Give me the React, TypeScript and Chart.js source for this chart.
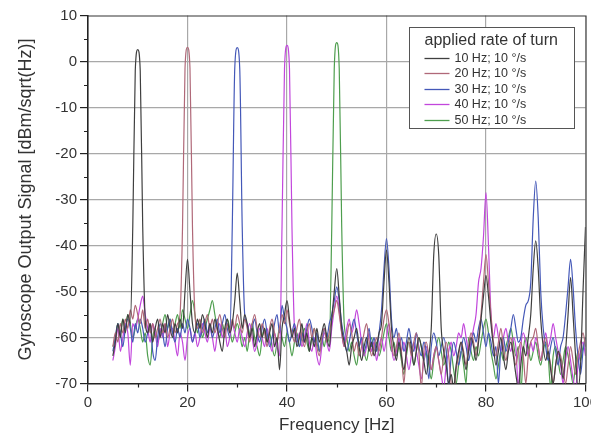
import React, { useEffect, useRef } from 'react';
import { Chart, registerables } from 'chart.js';

Chart.register(...registerables);

const FONT = "'Liberation Sans', Arial, Helvetica, sans-serif";

// frequency grid (Hz), 5 … 100 in 0.5 Hz steps
const frequencies: number[] = [];
for (let i = 0; i <= 190; i++) frequencies.push(5 + i * 0.5);

const seriesLabels = ['10 Hz; 10 °/s', '20 Hz; 10 °/s', '30 Hz; 10 °/s', '40 Hz; 10 °/s', '50 Hz; 10 °/s'];
const seriesColors = ['#3f3f3f', '#b06878', '#4458b8', '#c246dc', '#4e9e4e'];

const sig10: number[] = [
  -64, -61, -57, -60, -56, -59, -55, -57, -36, -2,
  2.6, -2, -36, -56, -59, -57, -61, -58, -56, -60,
  -57, -59, -55, -58, -60, -57, -59, -56, -58, -50,
  -43, -50, -57, -59, -56, -58, -55, -57, -60, -57,
  -59, -56, -58, -61, -63, -58, -56, -59, -57, -52,
  -46, -52, -58, -55, -57, -60, -58, -62, -59, -57,
  -60, -58, -61, -59, -57, -62, -60, -67, -58, -55,
  -52, -56, -60, -58, -62, -60, -57, -61, -59, -63,
  -60, -62, -58, -61, -59, -57, -60, -62, -56, -50,
  -45, -51, -58, -61, -63, -66, -62, -60, -58, -62,
  -65, -62, -60, -63, -61, -64, -62, -59, -57, -48,
  -41, -48, -58, -62, -65, -61, -64, -67, -63, -60,
  -62, -66, -63, -60, -62, -65, -68, -64, -58, -42,
  -37.5, -42, -58, -63, -66, -70, -68, -71, -66, -63,
  -61, -64, -67, -63, -60, -62, -65, -61, -56, -51,
  -46.5, -51, -57, -62, -66, -63, -60, -64, -67, -63,
  -61, -64, -68, -71, -66, -62, -64, -60, -55, -45,
  -39, -45, -56, -62, -65, -63, -67, -70, -66, -63,
  -65, -69, -63, -55, -47, -55, -64, -71, -66, -50,
  -36,
];

const sig20: number[] = [
  -62, -59, -61, -57, -59, -56, -58, -54, -56, -53,
  -55, -57, -54, -58, -56, -59, -57, -60, -58, -56,
  -59, -57, -60, -58, -56, -59, -57, -55, -36, -1.5,
  3.1, -1.5, -36, -55, -58, -56, -59, -57, -55, -58,
  -56, -59, -57, -55, -58, -60, -57, -59, -56, -58,
  -55, -57, -59, -56, -58, -61, -57, -55, -58, -60,
  -57, -59, -62, -58, -56, -59, -61, -58, -55, -57,
  -54, -57, -59, -61, -58, -56, -60, -62, -59, -57,
  -60, -58, -62, -64, -60, -58, -61, -59, -56, -54,
  -52, -55, -59, -62, -60, -57, -59, -63, -61, -64,
  -62, -59, -57, -61, -64, -62, -60, -63, -60, -56,
  -54, -57, -61, -64, -62, -59, -63, -70, -63, -61,
  -64, -61, -59, -63, -71, -63, -61, -64, -67, -64,
  -62, -65, -68, -64, -61, -64, -70, -72, -67, -64,
  -61, -63, -66, -62, -59, -61, -64, -60, -55, -48,
  -42, -48, -55, -61, -64, -61, -58, -62, -65, -62,
  -60, -63, -66, -63, -61, -64, -70, -64, -61, -60,
  -58, -62, -65, -62, -60, -63, -66, -70, -66, -63,
  -64, -67, -70, -66, -62, -65, -68, -64, -61, -59,
  -62,
];

const sig30: number[] = [
  -63, -60, -57, -59, -62, -58, -56, -58, -61, -57,
  -59, -56, -58, -61, -59, -57, -63, -65, -60, -57,
  -59, -62, -58, -56, -59, -61, -58, -60, -57, -59,
  -56, -58, -61, -59, -57, -60, -58, -56, -59, -57,
  -60, -58, -56, -59, -57, -55, -58, -60, -36, -1.5,
  3.0, -1.5, -36, -55, -57, -60, -58, -56, -59, -61,
  -58, -56, -59, -62, -60, -57, -55, -59, -53, -56,
  -58, -61, -59, -57, -60, -62, -59, -61, -58, -56,
  -58, -61, -59, -63, -61, -58, -60, -57, -55, -52,
  -49, -52, -57, -60, -63, -61, -58, -56, -59, -62,
  -60, -63, -61, -58, -62, -60, -63, -59, -54, -45,
  -38.5, -45, -56, -60, -58, -62, -60, -63, -61, -58,
  -61, -63, -59, -62, -64, -61, -63, -69, -62, -59,
  -61, -64, -62, -60, -63, -71, -64, -61, -63, -66,
  -63, -60, -62, -65, -62, -59, -61, -58, -56, -59,
  -62, -59, -61, -64, -62, -70, -62, -60, -63, -61,
  -58, -55, -58, -61, -60, -56, -53, -52, -48, -34,
  -26, -34, -50, -58, -62, -65, -62, -60, -63, -66,
  -62, -60, -55, -49, -43, -49, -58, -64, -68, -63,
  -60,
];

const sig40: number[] = [
  -65, -62, -58, -63, -60, -57, -59, -66, -57, -58,
  -56, -53, -51, -55, -58, -61, -57, -59, -62, -58,
  -60, -57, -62, -59, -58, -61, -64, -59, -61, -65,
  -60, -58, -61, -59, -62, -60, -57, -59, -61, -58,
  -60, -63, -59, -57, -60, -58, -62, -60, -57, -59,
  -61, -58, -60, -62, -59, -57, -60, -63, -61, -58,
  -60, -62, -58, -61, -63, -59, -62, -64, -36, -1.5,
  3.5, -1.5, -36, -58, -61, -59, -62, -60, -57, -61,
  -63, -60, -64, -66, -62, -59, -61, -63, -58, -54,
  -51, -54, -59, -62, -58, -56, -59, -57, -54, -57,
  -61, -64, -62, -59, -63, -61, -65, -62, -60, -63,
  -60, -57, -62, -65, -63, -60, -63, -61, -64, -67,
  -64, -61, -63, -66, -69, -65, -62, -64, -67, -64,
  -62, -65, -68, -71, -66, -63, -61, -64, -62, -59,
  -60, -57, -60, -63, -61, -58, -55, -48, -45, -38,
  -28.5, -40, -55, -60, -57, -60, -63, -60, -58, -61,
  -63, -60, -62, -71, -62, -59, -61, -64, -61, -63,
  -60, -62, -65, -62, -59, -62, -60, -57, -60, -63,
  -66, -70, -65, -62, -65, -69, -71, -66, -63, -61,
  -64,
];

const sig50: number[] = [
  -62, -60, -57, -59, -56, -58, -55, -57, -60, -58,
  -56, -58, -61, -59, -64, -66, -60, -58, -61, -59,
  -57, -55, -58, -56, -59, -57, -55, -58, -54, -56,
  -58, -55, -52, -55, -59, -57, -60, -58, -56, -54,
  -52, -55, -58, -60, -57, -59, -56, -58, -61, -59,
  -57, -59, -62, -60, -63, -59, -57, -60, -62, -64,
  -60, -58, -61, -59, -62, -64, -61, -58, -60, -62,
  -59, -61, -64, -61, -59, -62, -60, -58, -61, -63,
  -60, -58, -61, -63, -60, -62, -59, -61, -36, -1.5,
  4.1, -1.5, -36, -57, -60, -63, -61, -64, -66, -62,
  -60, -63, -65, -62, -60, -63, -61, -64, -62, -59,
  -57, -60, -63, -61, -64, -62, -65, -68, -64, -61,
  -63, -66, -63, -60, -62, -65, -63, -66, -69, -65,
  -62, -60, -63, -66, -64, -61, -63, -67, -70, -66,
  -63, -66, -70, -60, -63, -65, -62, -64, -61, -58,
  -56, -59, -63, -66, -69, -66, -63, -65, -62, -60,
  -58, -61, -64, -62, -72, -63, -60, -62, -65, -63,
  -61, -64, -66, -63, -61, -64, -71, -64, -62, -65,
  -68, -65, -62, -64, -67, -70, -66, -63, -65, -62,
  -60,
];

const seriesValues = [sig10, sig20, sig30, sig40, sig50];

const legendTitle = 'applied rate of turn';
const xTitle = 'Frequency [Hz]';
const yTitle = 'Gyroscope Output Signal [dBm/sqrt(Hz)]';

const decorPlugin = {
  id: 'decor',
  afterDraw(chart: any) {
    const { ctx, chartArea } = chart;
    const { left, right, top, bottom } = chartArea;
    const xs = chart.scales.x;
    const ys = chart.scales.y;
    ctx.save();
    // top and right frame
    ctx.strokeStyle = '#333';
    ctx.lineWidth = 1.2;
    ctx.beginPath();
    ctx.moveTo(left, top + 0.5);
    ctx.lineTo(right + 0.5, top + 0.5);
    ctx.lineTo(right + 0.5, bottom);
    ctx.stroke();
    // minor ticks
    ctx.strokeStyle = '#222';
    ctx.lineWidth = 1.2;
    ctx.beginPath();
    xs.ticks.forEach((t: any) => {
      if (t.value % 20 !== 0) {
        const px = Math.round(xs.getPixelForValue(t.value)) + 0.5;
        ctx.moveTo(px, bottom);
        ctx.lineTo(px, bottom + 4);
      }
    });
    ys.ticks.forEach((t: any) => {
      if (t.value % 10 !== 0) {
        const py = Math.round(ys.getPixelForValue(t.value)) + 0.5;
        ctx.moveTo(left, py);
        ctx.lineTo(left - 4, py);
      }
    });
    ctx.stroke();

    // legend box
    const bx = right - 176;
    const by = top + 11.5;
    const bw = 165;
    const bh = 101;
    ctx.fillStyle = '#fff';
    ctx.fillRect(bx, by, bw, bh);
    ctx.strokeStyle = '#555';
    ctx.lineWidth = 1;
    ctx.strokeRect(Math.round(bx) + 0.5, Math.round(by) + 0.5, bw, bh);
    ctx.fillStyle = '#333';
    ctx.textBaseline = 'middle';
    ctx.textAlign = 'left';
    ctx.font = `16px ${FONT}`;
    ctx.fillText(legendTitle, bx + 15, by + 14);
    ctx.font = `12.5px ${FONT}`;
    chart.data.datasets.forEach((ds: any, i: number) => {
      const cy = by + 31 + i * 15.4;
      ctx.strokeStyle = ds.borderColor;
      ctx.lineWidth = 1.3;
      ctx.beginPath();
      ctx.moveTo(bx + 15, Math.round(cy) + 0.5);
      ctx.lineTo(bx + 40, Math.round(cy) + 0.5);
      ctx.stroke();
      ctx.fillStyle = '#333';
      ctx.fillText(ds.label, bx + 45, cy + 0.5);
    });
    ctx.restore();
  },
};

export default function App() {
  const ref = useRef<HTMLCanvasElement | null>(null);

  useEffect(() => {
    if (!ref.current) return;
    const datasets = seriesValues.map((vals, k) => ({
      label: seriesLabels[k],
      data: vals.map((y, i) => ({ x: frequencies[i], y })),
      borderColor: seriesColors[k],
      backgroundColor: seriesColors[k],
      borderWidth: 1.2,
      pointRadius: 0,
      fill: false,
      cubicInterpolationMode: 'monotone' as const,
      clip: 0,
    }));

    const chart = new Chart(ref.current, {
      type: 'line',
      data: { datasets },
      plugins: [decorPlugin],
      options: {
        responsive: false,
        animation: false,
        events: [],
        layout: { padding: { top: 15.5, right: 14, left: 0, bottom: 0 } },
        plugins: { legend: { display: false }, tooltip: { enabled: false } },
        scales: {
          x: {
            type: 'linear',
            min: 0,
            max: 100,
            afterFit: (s: any) => {
              s.height = 54.5;
            },
            ticks: {
              stepSize: 10,
              autoSkip: false,
              maxRotation: 0,
              padding: 2,
              color: '#333',
              font: { family: FONT, size: 15 },
              callback: (v: any) => (Number(v) % 20 === 0 ? String(v) : ''),
            },
            grid: {
              color: (c: any) => {
                const v = c.tick ? c.tick.value : 0;
                return v % 20 === 0 && v > 0 && v < 100 ? '#a8a8a8' : 'rgba(0,0,0,0)';
              },
              lineWidth: 1.2,
              tickLength: 8,
              tickColor: (c: any) => {
                const v = c.tick ? c.tick.value : 0;
                return v % 20 === 0 ? '#222' : 'rgba(0,0,0,0)';
              },
              tickWidth: 1.2,
            },
            border: { color: '#222', width: 1.6 },
            title: {
              display: true,
              text: xTitle,
              color: '#333',
              font: { family: FONT, size: 17 },
              padding: { top: 0, bottom: 2 },
            },
          },
          y: {
            type: 'linear',
            min: -70,
            max: 10,
            afterFit: (s: any) => {
              s.width = 88;
            },
            ticks: {
              stepSize: 5,
              autoSkip: false,
              padding: 3,
              color: '#333',
              font: { family: FONT, size: 15 },
              callback: (v: any) => (Number(v) % 10 === 0 ? String(v) : ''),
            },
            grid: {
              color: (c: any) => {
                const v = c.tick ? c.tick.value : 0;
                return v % 10 === 0 && v > -70 && v < 10 ? '#a8a8a8' : 'rgba(0,0,0,0)';
              },
              lineWidth: 1.2,
              tickLength: 8,
              tickColor: (c: any) => {
                const v = c.tick ? c.tick.value : 0;
                return v % 10 === 0 ? '#222' : 'rgba(0,0,0,0)';
              },
              tickWidth: 1.2,
            },
            border: { color: '#222', width: 1.6 },
            title: {
              display: true,
              text: yTitle,
              color: '#333',
              font: { family: FONT, size: 18 },
              padding: { top: 15, bottom: 0 },
            },
          },
        },
      },
    });
    return () => chart.destroy();
  }, []);

  return (
    <div
      style={{
        position: 'fixed',
        left: 0,
        top: 0,
        width: 591,
        height: 438,
        overflow: 'hidden',
        background: '#fff',
      }}
    >
      <canvas ref={ref} width={600} height={438} style={{ display: 'block' }} />
    </div>
  );
}
